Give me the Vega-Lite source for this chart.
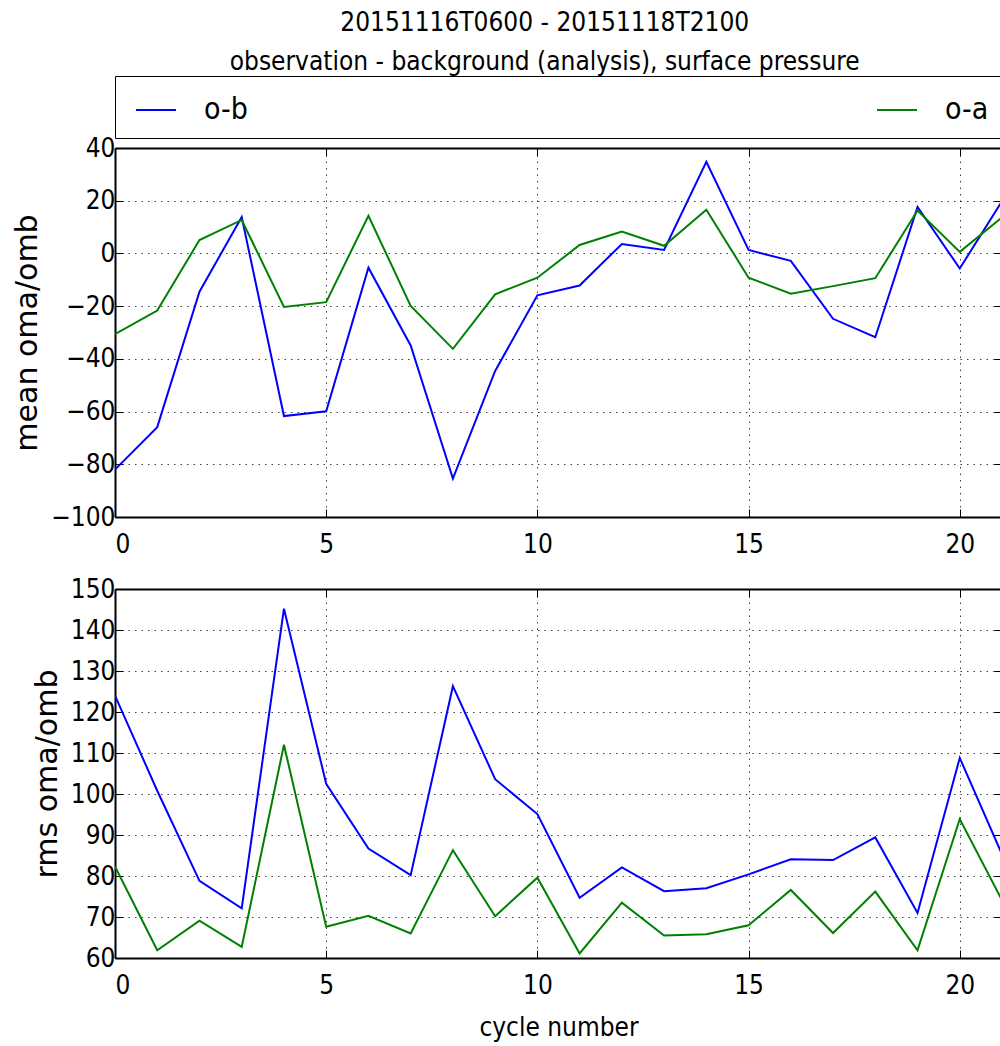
{
  "$schema": "https://vega.github.io/schema/vega-lite/v6.json",
  "background": "white",
  "padding": {"left": 12, "right": 0, "top": 9, "bottom": 3},
  "title": {
    "text": ["20151116T0600 - 20151118T2100", "observation - background (analysis), surface pressure"],
    "font": "DejaVu Sans Condensed",
    "fontSize": 26,
    "fontWeight": "normal",
    "lineHeight": 39,
    "color": "black",
    "anchor": "middle",
    "offset": 1,
    "dx": 36
  },
  "config": {
    "view": {"stroke": null},
    "axis": {
      "labelFont": "DejaVu Sans Condensed",
      "labelFontSize": 26,
      "labelColor": "black",
      "titleColor": "black",
      "titleFontWeight": "normal",
      "domainColor": "black",
      "domainWidth": 2,
      "tickColor": "black",
      "tickWidth": 1,
      "tickSize": -8,
      "labelPadding": 8,
      "gridColor": "black",
      "gridOpacity": 0.75,
      "gridDash": [1.5, 5],
      "gridWidth": 1
    },
    "axisY": {"titleFont": "DejaVu Sans", "titleFontSize": 30, "titlePadding": 8},
    "axisX": {"titleFont": "DejaVu Sans Condensed", "titleFontSize": 26, "titlePadding": 16, "labelPadding": 22}
  },
  "data": {
    "values": [
      {"cycle": 0, "series": "o-b", "mean": -82.0, "rms": 124.0},
      {"cycle": 1, "series": "o-b", "mean": -65.9, "rms": 100.8},
      {"cycle": 2, "series": "o-b", "mean": -14.5, "rms": 78.8},
      {"cycle": 3, "series": "o-b", "mean": 13.8, "rms": 72.1},
      {"cycle": 4, "series": "o-b", "mean": -61.7, "rms": 145.2},
      {"cycle": 5, "series": "o-b", "mean": -59.9, "rms": 102.5},
      {"cycle": 6, "series": "o-b", "mean": -5.4, "rms": 86.7},
      {"cycle": 7, "series": "o-b", "mean": -34.9, "rms": 80.2},
      {"cycle": 8, "series": "o-b", "mean": -85.4, "rms": 126.3},
      {"cycle": 9, "series": "o-b", "mean": -44.6, "rms": 103.6},
      {"cycle": 10, "series": "o-b", "mean": -15.9, "rms": 95.1},
      {"cycle": 11, "series": "o-b", "mean": -12.2, "rms": 74.7},
      {"cycle": 12, "series": "o-b", "mean": 3.6, "rms": 82.1},
      {"cycle": 13, "series": "o-b", "mean": 1.3, "rms": 76.3},
      {"cycle": 14, "series": "o-b", "mean": 34.8, "rms": 77.0},
      {"cycle": 15, "series": "o-b", "mean": 1.3, "rms": 80.4},
      {"cycle": 16, "series": "o-b", "mean": -2.8, "rms": 84.1},
      {"cycle": 17, "series": "o-b", "mean": -24.8, "rms": 83.9},
      {"cycle": 18, "series": "o-b", "mean": -31.8, "rms": 89.4},
      {"cycle": 19, "series": "o-b", "mean": 17.6, "rms": 71.0},
      {"cycle": 20, "series": "o-b", "mean": -5.7, "rms": 108.8},
      {"cycle": 21, "series": "o-b", "mean": 19.8, "rms": 85.3},
      {"cycle": 0, "series": "o-a", "mean": -30.6, "rms": 82.3},
      {"cycle": 1, "series": "o-a", "mean": -21.7, "rms": 61.9},
      {"cycle": 2, "series": "o-a", "mean": 5.1, "rms": 69.1},
      {"cycle": 3, "series": "o-a", "mean": 12.7, "rms": 62.7},
      {"cycle": 4, "series": "o-a", "mean": -20.3, "rms": 112.0},
      {"cycle": 5, "series": "o-a", "mean": -18.5, "rms": 67.6},
      {"cycle": 6, "series": "o-a", "mean": 14.3, "rms": 70.3},
      {"cycle": 7, "series": "o-a", "mean": -19.9, "rms": 66.0},
      {"cycle": 8, "series": "o-a", "mean": -36.2, "rms": 86.3},
      {"cycle": 9, "series": "o-a", "mean": -15.5, "rms": 70.2},
      {"cycle": 10, "series": "o-a", "mean": -9.2, "rms": 79.6},
      {"cycle": 11, "series": "o-a", "mean": 3.2, "rms": 61.1},
      {"cycle": 12, "series": "o-a", "mean": 8.3, "rms": 73.5},
      {"cycle": 13, "series": "o-a", "mean": 2.9, "rms": 65.5},
      {"cycle": 14, "series": "o-a", "mean": 16.6, "rms": 65.8},
      {"cycle": 15, "series": "o-a", "mean": -9.2, "rms": 68.0},
      {"cycle": 16, "series": "o-a", "mean": -15.3, "rms": 76.6},
      {"cycle": 17, "series": "o-a", "mean": -12.4, "rms": 66.1},
      {"cycle": 18, "series": "o-a", "mean": -9.4, "rms": 76.2},
      {"cycle": 19, "series": "o-a", "mean": 16.3, "rms": 61.9},
      {"cycle": 20, "series": "o-a", "mean": 0.6, "rms": 93.9},
      {"cycle": 21, "series": "o-a", "mean": 13.7, "rms": 74.1}
    ]
  },
  "spacing": 72,
  "bounds": "flush",
  "resolve": {"scale": {"color": "independent"}},
  "vconcat": [
    {
      "width": 887,
      "height": 369,
      "resolve": {"axis": {"x": "independent", "y": "independent"}},
      "layer": [
        {
          "mark": {"type": "line", "strokeWidth": 2, "clip": true},
          "encoding": {
            "x": {"field": "cycle", "type": "quantitative",
                  "scale": {"domain": [0, 21], "nice": false, "zero": false},
                  "axis": {"orient": "bottom", "values": [0, 5, 10, 15, 20], "title": null, "grid": true}},
            "y": {"field": "mean", "type": "quantitative",
                  "scale": {"domain": [-100, 40], "nice": false},
                  "axis": {"values": [-100, -80, -60, -40, -20, 0, 20, 40], "title": "mean oma/omb", "grid": true}},
            "color": {"field": "series", "type": "nominal",
                      "scale": {"domain": ["o-b", "o-a"], "range": ["#0000ff", "#008000"]},
                      "legend": {"orient": "none", "legendX": 0, "legendY": -72, "direction": "horizontal", "columns": 2,
                                 "columnPadding": 621, "title": null, "symbolType": "stroke", "symbolSize": 1600,
                                 "symbolStrokeWidth": 2, "labelFontSize": 30, "labelFont": "DejaVu Sans Condensed",
                                 "labelColor": "black", "labelOffset": 27, "padding": 13, "symbolOffset": 7,
                                 "strokeColor": "black", "fillColor": "white"}}
          }
        },
        {
          "mark": {"type": "point", "opacity": 0},
          "encoding": {
            "x": {"field": "cycle", "type": "quantitative",
                  "axis": {"orient": "top", "labels": false, "grid": false, "title": null, "values": [0, 5, 10, 15, 20]}},
            "y": {"field": "mean", "type": "quantitative",
                  "axis": {"orient": "right", "labels": false, "grid": false, "title": null, "values": [-100, -80, -60, -40, -20, 0, 20, 40]}}
          }
        }
      ]
    },
    {
      "width": 887,
      "height": 369,
      "resolve": {"axis": {"x": "independent", "y": "independent"}},
      "layer": [
        {
          "mark": {"type": "line", "strokeWidth": 2, "clip": true},
          "encoding": {
            "x": {"field": "cycle", "type": "quantitative",
                  "scale": {"domain": [0, 21], "nice": false, "zero": false},
                  "axis": {"orient": "bottom", "values": [0, 5, 10, 15, 20], "title": "cycle number", "grid": true}},
            "y": {"field": "rms", "type": "quantitative",
                  "scale": {"domain": [60, 150], "nice": false, "zero": false},
                  "axis": {"values": [60, 70, 80, 90, 100, 110, 120, 130, 140, 150], "title": "rms oma/omb", "grid": true}},
            "color": {"field": "series", "type": "nominal",
                      "scale": {"domain": ["o-b", "o-a"], "range": ["#0000ff", "#008000"]},
                      "legend": null}
          }
        },
        {
          "mark": {"type": "point", "opacity": 0},
          "encoding": {
            "x": {"field": "cycle", "type": "quantitative",
                  "axis": {"orient": "top", "labels": false, "grid": false, "title": null, "values": [0, 5, 10, 15, 20]}},
            "y": {"field": "rms", "type": "quantitative",
                  "axis": {"orient": "right", "labels": false, "grid": false, "title": null, "values": [60, 70, 80, 90, 100, 110, 120, 130, 140, 150]}}
          }
        }
      ]
    }
  ]
}
